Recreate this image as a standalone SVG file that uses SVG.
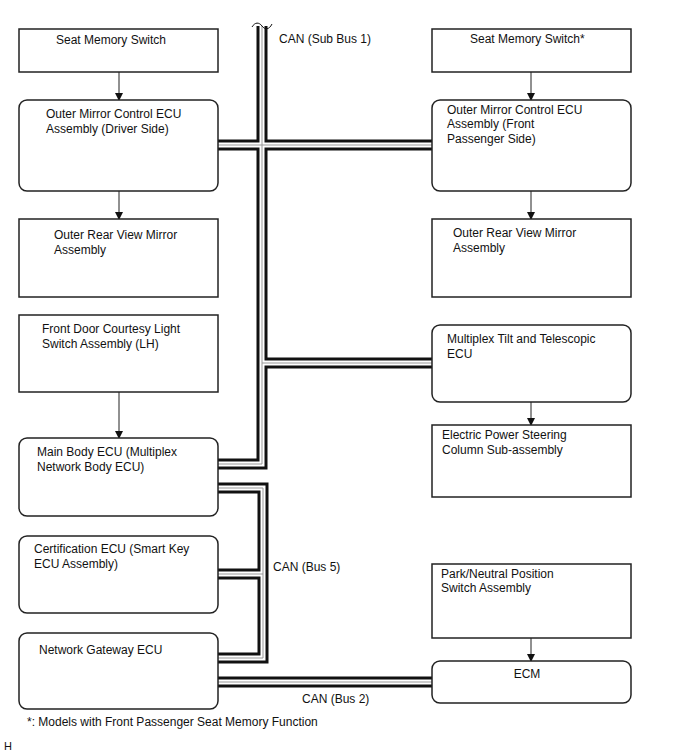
<svg xmlns="http://www.w3.org/2000/svg" width="688" height="755" viewBox="0 0 688 755">
<style>
.box{fill:#fff;stroke:#222;stroke-width:1.5}
.t{font-family:"Liberation Sans",Arial,sans-serif;font-size:12px;fill:#111}
.bk{fill:none;stroke:#111;stroke-width:11;stroke-linejoin:miter}
.wh{fill:none;stroke:#fff;stroke-width:5;stroke-linejoin:miter}
.gr{fill:none;stroke:#999;stroke-width:1}
.ar{stroke:#222;stroke-width:1;fill:none}
</style>
<defs>
<marker id="ah" markerWidth="8" markerHeight="10" refX="7" refY="4" orient="auto" markerUnits="userSpaceOnUse" viewBox="0 0 8 8">
<path d="M0,0 L8,4 L0,8 Z" fill="#111"/>
</marker>
</defs>
<g id="connectors">
<g id="buses">
<path class="bk" d="M262,26 V464 H218 M218,145 H432 M262,363 H432 M218,488 H263 V658 H218 M263,574 H218 M218,682 H432"/>
<path class="wh" d="M262,26 V464 H218 M218,145 H432 M262,363 H432 M218,488 H263 V658 H218 M263,574 H218 M218,682 H432"/>
<path class="gr" d="M262,26 V464 H218 M218,145 H432 M262,363 H432 M218,488 H263 V658 H218 M263,574 H218 M218,682 H432"/>
<path d="M252,27 C255,22 259,22 262,26 C265,30 269,30 272,24" fill="none" stroke="#111" stroke-width="1"/>
</g>
<path class="ar" d="M119,72 V100" marker-end="url(#ah)"/>
<path class="ar" d="M119,191 V219" marker-end="url(#ah)"/>
<path class="ar" d="M119,392 V438" marker-end="url(#ah)"/>
<path class="ar" d="M531,72 V100" marker-end="url(#ah)"/>
<path class="ar" d="M531,191 V219" marker-end="url(#ah)"/>
<path class="ar" d="M531,402 V425" marker-end="url(#ah)"/>
<path class="ar" d="M531,638 V661" marker-end="url(#ah)"/>
</g>
<g id="n1"><rect class="box" x="19" y="29" width="199" height="43"/><text class="t" x="56" y="44">Seat Memory Switch</text></g>
<g id="n2"><rect class="box" x="19" y="100" width="199" height="91" rx="8"/><text class="t" x="46" y="118">Outer Mirror Control ECU</text><text class="t" x="46" y="133">Assembly (Driver Side)</text></g>
<g id="n3"><rect class="box" x="19" y="219" width="199" height="78"/><text class="t" x="54" y="239">Outer Rear View Mirror</text><text class="t" x="54" y="254">Assembly</text></g>
<g id="n4"><rect class="box" x="19" y="315" width="199" height="77"/><text class="t" x="42" y="333">Front Door Courtesy Light</text><text class="t" x="42" y="348">Switch Assembly (LH)</text></g>
<g id="n5"><rect class="box" x="19" y="438" width="199" height="78" rx="8"/><text class="t" x="37" y="456">Main Body ECU (Multiplex</text><text class="t" x="37" y="471">Network Body ECU)</text></g>
<g id="n6"><rect class="box" x="19" y="536" width="199" height="77" rx="8"/><text class="t" x="34" y="553">Certification ECU (Smart Key</text><text class="t" x="34" y="568">ECU Assembly)</text></g>
<g id="n7"><rect class="box" x="19" y="633" width="199" height="76" rx="8"/><text class="t" x="39" y="654">Network Gateway ECU</text></g>
<g id="n8"><rect class="box" x="432" y="29" width="199" height="43"/><text class="t" x="470" y="43">Seat Memory Switch*</text></g>
<g id="n9"><rect class="box" x="432" y="100" width="199" height="91" rx="8"/><text class="t" x="447" y="114">Outer Mirror Control ECU</text><text class="t" x="447" y="128">Assembly (Front</text><text class="t" x="447" y="143">Passenger Side)</text></g>
<g id="n10"><rect class="box" x="432" y="219" width="199" height="78"/><text class="t" x="453" y="237">Outer Rear View Mirror</text><text class="t" x="453" y="252">Assembly</text></g>
<g id="n11"><rect class="box" x="432" y="325" width="199" height="77" rx="8"/><text class="t" x="447" y="343">Multiplex Tilt and Telescopic</text><text class="t" x="447" y="358">ECU</text></g>
<g id="n12"><rect class="box" x="432" y="425" width="199" height="72"/><text class="t" x="442" y="439">Electric Power Steering</text><text class="t" x="442" y="454">Column Sub-assembly</text></g>
<g id="n13"><rect class="box" x="432" y="564" width="199" height="74"/><text class="t" x="441" y="578">Park/Neutral Position</text><text class="t" x="441" y="592">Switch Assembly</text></g>
<g id="n14"><rect class="box" x="432" y="661" width="199" height="42" rx="8"/><text class="t" x="527" y="678" text-anchor="middle">ECM</text></g>
<g id="labels">
<text class="t" x="279" y="43">CAN (Sub Bus 1)</text>
<text class="t" x="273" y="571">CAN (Bus 5)</text>
<text class="t" x="302" y="703">CAN (Bus 2)</text>
<text class="t" x="27" y="726">*: Models with Front Passenger Seat Memory Function</text>
<text class="t" x="4" y="750" style="font-size:11px">H</text>
</g>
</svg>
